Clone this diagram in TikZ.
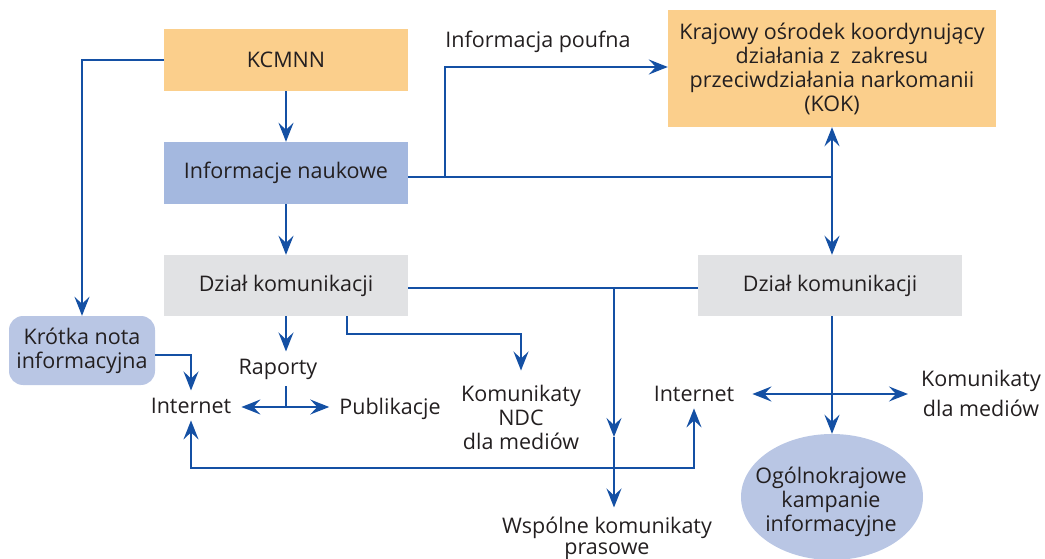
\documentclass[tikz,border=0pt]{standalone}
\usepackage{fontspec}
\setmainfont{Open Sans}
\usetikzlibrary{arrows.meta,shapes.geometric}
\definecolor{cOr}{HTML}{FBCF8C}
\definecolor{cBl}{HTML}{A4B8DF}
\definecolor{cGr}{HTML}{E1E2E4}
\definecolor{cLb}{HTML}{B9C6E4}
\definecolor{cLn}{HTML}{1450A4}
\definecolor{cTx}{HTML}{231F20}
\begin{document}
\begin{tikzpicture}[x=1pt,y=-1pt,
  font=\fontsize{21.5}{24}\selectfont, text=cTx,
  box/.style={rectangle, inner sep=0pt, align=center},
  lbl/.style={inner sep=7pt},
  ln/.style={draw=cLn, line width=1.8pt},
  arr/.style={ln, -{Stealth[length=19pt,width=15pt,inset=7pt]}},
  arr2/.style={ln, {Stealth[length=19pt,width=15pt,inset=7pt]}-{Stealth[length=19pt,width=15pt,inset=7pt]}}]
\useasboundingbox (0,0) rectangle (1045,559);
% boxes
\node[box, fill=cOr, minimum width=244pt, minimum height=62pt] (kcmnn) at (286,60) {KCMNN};
\node[box, fill=cBl, minimum width=244pt, minimum height=62pt] (info) at (286,173) {Informacje naukowe};
\node[box, fill=cGr, minimum width=244pt, minimum height=61pt] (dzl) at (286,285.5) {Dział komunikacji};
\node[box, fill=cOr, minimum width=328pt, minimum height=117pt] (kok) at (832,68.5) {Krajowy ośrodek koordynujący\\działania z\ \ zakresu\\przeciwdziałania narkomanii\\(KOK)};
\node[box, fill=cGr, minimum width=264pt, minimum height=61pt] (dzr) at (830,285.5) {Dział komunikacji};
\node[box, fill=cLb, rounded corners=14pt, minimum width=146pt, minimum height=69pt] (krotka) at (82,350.5) {Krótka nota\\informacyjna};
\node[ellipse, fill=cLb, minimum width=182pt, minimum height=126pt, inner sep=0pt] (ogol) at (832,497) {};
\node[align=center, inner sep=0pt] (ogoltxt) at (831,502) {Ogólnokrajowe\\kampanie\\informacyjne};
% labels
\node[lbl, anchor=base] (poufna) at (538,48) {Informacja poufna};
\node[lbl, anchor=base] (raporty) at (278,374) {Raporty};
\node[lbl, anchor=base] (intL) at (191,413) {Internet};
\node[lbl, anchor=base] (publ) at (390,414) {Publikacje};
\node[lbl, anchor=base] (intR) at (694,401) {Internet};
\node[lbl, align=center] (ndc) at (521,417) {Komunikaty\\NDC\\dla mediów};
\node[lbl, align=center] (kdm) at (981,393) {Komunikaty\\[6pt]dla mediów};
\node[lbl, align=center, font=\fontsize{21.5}{21}\selectfont] (wsp) at (607,538) {Wspólne komunikaty\\prasowe};
% junctions
\coordinate (jA) at (445,177);
\coordinate (jB) at (832,177);
\coordinate (jK) at (445,67);
\coordinate (jC) at (614,288);
\coordinate (jD) at (614,437);
\coordinate (jF) at (694,468);
\coordinate (jG) at (286,407);
\coordinate (jH) at (347,334);
\coordinate (jI) at (192,355);
\coordinate (jJ) at (832,394);
% connectors
\draw[arr] (kcmnn.west) -| (krotka.north);
\draw[arr] (kcmnn) -- (info);
\draw[arr] (info) -- (dzl);
\draw[ln] (info.east |- jA) -- (jB);
\draw[arr] (jA) -- (jK) -- (kok.west |- jK);
\draw[arr2] (kok.south -| jB) -- (dzr.north -| jB);
\draw[ln] (dzl.east |- jC) -- (dzr.west |- jC);
\draw[arr] (jC) -- (jD);
\draw[arr] (jD) -- ([yshift=2pt]wsp.north -| jD);
\draw[arr2] (intL.south) |- (jF) -- (intR.south);
\draw[arr] (dzl.south) -- (dzl.south |- raporty.north);
\draw[ln] (raporty.south -| jG) -- (jG);
\draw[arr2] ([xshift=3pt]intL.east |- jG) -- ([xshift=-3pt]publ.west |- jG);
\draw[arr] (dzl.south -| jH) -- (jH) -| ([yshift=7pt]ndc.north);
\draw[arr] (krotka.east |- jI) -| (intL.north);
\draw[arr] (dzr.south -| jB) -- (ogol.north);
\draw[arr2] ([xshift=11pt]intR.east |- jJ) -- ([xshift=-6pt]kdm.west |- jJ);
\end{tikzpicture}
\end{document}
